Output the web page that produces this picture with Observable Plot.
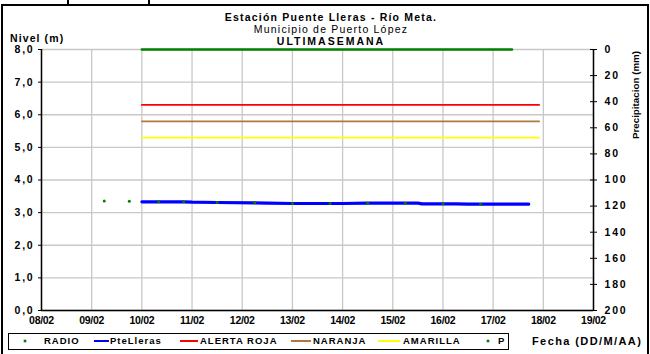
<!DOCTYPE html>
<html>
<head>
<meta charset="utf-8">
<script src="https://cdn.jsdelivr.net/npm/d3@7"></script>
<script src="https://cdn.jsdelivr.net/npm/@observablehq/plot@0.6"></script>
<style>
  html, body { margin: 0; padding: 0; background: #fff; }
  body { width: 650px; height: 354px; overflow: hidden; font-family: "Liberation Sans", Arial, sans-serif; }
  #wrap { position: relative; width: 650px; height: 354px; }
  #wrap > svg { position: absolute; left: 0; top: 0; }
  .t { position: absolute; white-space: nowrap; color: #000; line-height: 1; }
  .b { font-weight: bold; }
</style>
</head>
<body>
<div id="wrap"></div>
<script>
// ---- data ----
const year = 2014;
const dayLabels = ["08/02","09/02","10/02","11/02","12/02","13/02","14/02","15/02","16/02","17/02","18/02","19/02"];
const levelTicks = [0,1,2,3,4,5,6,7,8];
const precipTicks = [0,20,40,60,80,100,120,140,160,180,200];

// PteLleras level (m)
const pteTimes = ["10/02 00:00","10/02 20:00","11/02 00:00","11/02 12:00","12/02 06:00","12/02 12:00","13/02 00:00","14/02 00:00","14/02 12:00","15/02 12:00","15/02 14:00","16/02 06:00","16/02 12:00","17/02 17:00"];
const pteValues = [3.33,3.33,3.32,3.31,3.30,3.29,3.28,3.28,3.29,3.29,3.27,3.27,3.26,3.26];

// RADIO readings (m)
const radioTimes = ["09/02 06:00","09/02 18:00","10/02 08:00","10/02 20:00","11/02 12:00","12/02 06:00","13/02 00:00","13/02 18:00","14/02 12:00","15/02 06:00","16/02 00:00","16/02 18:00"];
const radioValues = [3.36,3.35,3.33,3.33,3.31,3.30,3.28,3.28,3.29,3.29,3.27,3.26];

// Alert thresholds (m)
const alertStart = "10/02 00:00", alertEnd = "17/02 22:00";
const alertNames = ["ALERTA ROJA","NARANJA","AMARILLA"];
const alertValues = [6.3, 5.8, 5.3];

// Precipitation P (mm)
const pTimes = ["10/02 00:00","17/02 09:00"];
const pValues = [0, 0];

// legend
const legendNames = ["RADIO","PteLleras","ALERTA ROJA","NARANJA","AMARILLA","P"];
const legendKinds = ["dot","line","line","line","line","dot"];
const colors = {RADIO:"#008000", PteLleras:"#0000ff", "ALERTA ROJA":"#ff0000", NARANJA:"#b07840", AMARILLA:"#ffff00", P:"#008000"};

// ---- layout (legend positions inside box) ----
const legendSwatch = [[16,16],[85,100],[171,189],[282,302],[369,391],[479,479]];
const legendTextX = [35,101,191,304,394,489];

// ---- helpers ----
function parse(s) {
  const [dm, hm] = s.split(" ");
  const [d, m] = dm.split("/").map(Number);
  const [h, mi] = (hm || "00:00").split(":").map(Number);
  return new Date(Date.UTC(year, m - 1, d, h, mi));
}
const dayDates = dayLabels.map(s => parse(s));
const precipScale = d3.scaleLinear().domain([0, 200]).range([8, 0]);

const pte = pteTimes.map((t, i) => ({date: parse(t), v: pteValues[i]}));
const radio = radioTimes.map((t, i) => ({date: parse(t), v: radioValues[i]}));
const alerts = [];
alertNames.forEach((n, i) => {
  alerts.push({name: n, date: parse(alertStart), v: alertValues[i]});
  alerts.push({name: n, date: parse(alertEnd), v: alertValues[i]});
});
const precip = pTimes.map((t, i) => ({date: parse(t), v: precipScale(pValues[i])}));

const fmtDay = d3.utcFormat("%d/%m");

const chart = Plot.plot({
  width: 650,
  height: 354,
  marginLeft: 41,
  marginRight: 57,
  marginTop: 49,
  marginBottom: 44,
  style: {fontFamily: "'Liberation Sans', Arial, sans-serif", fontSize: "10px", fontWeight: "bold", color: "#000", background: "transparent", overflow: "visible"},
  x: {type: "utc", domain: [dayDates[0], dayDates[dayDates.length - 1]]},
  y: {domain: [0, 8]},
  marks: [
    Plot.gridX(dayDates, {stroke: "#c8c8c8", strokeOpacity: 1, strokeWidth: 1.3}),
    Plot.gridY(levelTicks, {stroke: "#c8c8c8", strokeOpacity: 1, strokeWidth: 1.3}),
    Plot.ruleX([dayDates[0]], {stroke: "#000", strokeWidth: 1.5}),
    Plot.ruleX([dayDates[dayDates.length - 1]], {stroke: "#000", strokeWidth: 1.5}),
    Plot.ruleY([0], {stroke: "#000", strokeWidth: 1.5}),
    Plot.axisY(levelTicks, {anchor: "left", tickSize: 3, tickPadding: 4, label: null,
      tickFormat: d => d.toFixed(1).replace(".", ","), fontSize: 10.5}),
    Plot.axisY(precipTicks.map(p => precipScale(p)), {anchor: "right", tickSize: 7, dx: -4, tickPadding: 8, label: null,
      tickFormat: y => String(Math.round(precipScale.invert(y))), fontSize: 10.5}),
    Plot.axisX(dayDates, {anchor: "bottom", tickSize: 0, tickPadding: 6, label: null, tickFormat: fmtDay, fontSize: 10.5}),
    Plot.line(alerts, {x: "date", y: "v", z: "name", stroke: d => colors[d.name], strokeWidth: 1.8}),
    Plot.line(precip, {x: "date", y: "v", stroke: colors.P, strokeWidth: 2.6}),
    Plot.line(pte, {x: "date", y: "v", stroke: colors.PteLleras, strokeWidth: 3.2}),
    Plot.dot(radio, {x: "date", y: "v", r: 1.5, fill: colors.RADIO, stroke: "none"})
  ]
});

d3.select(chart).selectAll('g[aria-label="y-axis tick label"]').style("letter-spacing", "1.8px");
d3.select(chart).selectAll('g[aria-label="x-axis tick label"]').style("letter-spacing", "-0.3px");

const wrap = document.getElementById("wrap");
wrap.appendChild(chart);

function addText(parent, txt, css, cls) {
  const el = document.createElement("div");
  el.className = "t " + (cls || "");
  el.textContent = txt;
  Object.assign(el.style, css);
  parent.appendChild(el);
  return el;
}

// frame
const frame = document.createElement("div");
Object.assign(frame.style, {position: "absolute", left: "1px", top: "4px", width: "648px", height: "360px", border: "2px solid #000", boxSizing: "border-box"});
wrap.appendChild(frame);
const topBox = document.createElement("div");
Object.assign(topBox.style, {position: "absolute", left: "67px", top: "-2px", width: "83px", height: "7px", borderLeft: "2px solid #000", borderRight: "2px solid #000", boxSizing: "border-box"});
wrap.appendChild(topBox);

// titles
addText(wrap, "Estación Puente Lleras - Río Meta.", {left: "331px", top: "12px", transform: "translateX(-50%)", fontSize: "10.5px", letterSpacing: "1.2px"}, "b");
addText(wrap, "Municipio de Puerto López", {left: "331px", top: "24px", transform: "translateX(-50%)", fontSize: "10.5px", letterSpacing: "1.2px"});
addText(wrap, "ULTIMASEMANA", {left: "331px", top: "36px", transform: "translateX(-50%)", fontSize: "10.5px", letterSpacing: "2px"}, "b");
addText(wrap, "Nivel (m)", {left: "10px", top: "33px", fontSize: "10.5px", letterSpacing: "1.1px"}, "b");
addText(wrap, "Fecha (DD/M/AA)", {left: "532px", top: "336px", fontSize: "11px", letterSpacing: "1.4px"}, "b");
addText(wrap, "Precipitacion (mm)", {left: "636px", top: "95px", transform: "translate(-50%,-50%) rotate(-90deg)", fontSize: "9.8px", letterSpacing: "0px"}, "b");

// legend
const lg = document.createElement("div");
Object.assign(lg.style, {position: "absolute", left: "8px", top: "333px", width: "501px", height: "17px", border: "1px solid #000", boxSizing: "border-box", background: "#fff"});
wrap.appendChild(lg);
legendNames.forEach((n, i) => {
  const [x1, x2] = legendSwatch[i];
  const sw = document.createElementNS("http://www.w3.org/2000/svg", "svg");
  sw.setAttribute("width", 500); sw.setAttribute("height", 14);
  Object.assign(sw.style, {position: "absolute", left: "0px", top: "0px"});
  if (legendKinds[i] === "dot") {
    const c = document.createElementNS("http://www.w3.org/2000/svg", "rect");
    c.setAttribute("x", x1 - 1.3); c.setAttribute("y", 5.7); c.setAttribute("width", 2.6); c.setAttribute("height", 2.6);
    c.setAttribute("fill", colors[n]);
    sw.appendChild(c);
  } else {
    const l = document.createElementNS("http://www.w3.org/2000/svg", "line");
    l.setAttribute("x1", x1); l.setAttribute("x2", x2); l.setAttribute("y1", 7); l.setAttribute("y2", 7);
    l.setAttribute("stroke", colors[n]); l.setAttribute("stroke-width", 2);
    sw.appendChild(l);
  }
  lg.appendChild(sw);
  addText(lg, n, {left: legendTextX[i] + "px", top: "2px", fontSize: "9.5px", letterSpacing: "1px"}, "b");
});
</script>
</body>
</html>
